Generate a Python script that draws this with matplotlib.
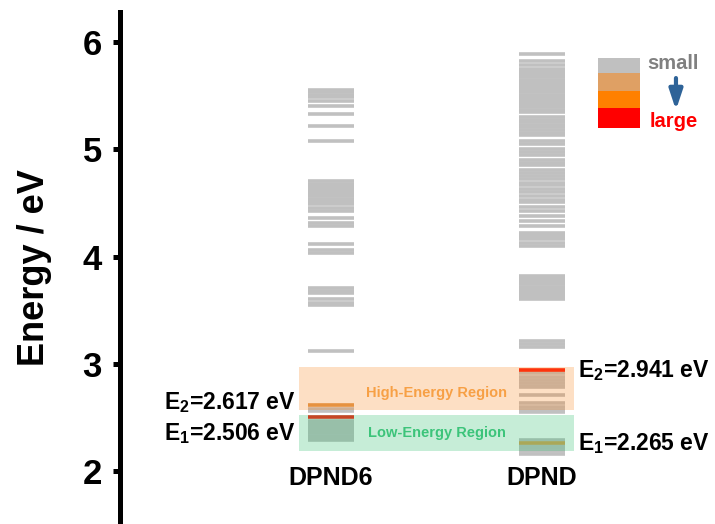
import matplotlib
matplotlib.use("Agg")
import matplotlib.pyplot as plt
from matplotlib.patches import Rectangle

plt.rcParams['font.family'] = ['Liberation Sans', 'DejaVu Sans']
plt.rcParams['font.weight'] = 'bold'
plt.rcParams['mathtext.fontset'] = 'custom'
plt.rcParams['mathtext.bf'] = 'Liberation Sans:bold'
plt.rcParams['mathtext.rm'] = 'Liberation Sans:bold'

# molecules and x positions
molecules = ["DPND6", "DPND"]
mol_x = [1, 2]

# excited-state levels (eV), small oscillator strength (gray)
dpnd6_gray = [5.55, 5.53, 5.51, 5.49, 5.45, 5.40, 5.33, 5.22, 5.08,
              4.70, 4.68, 4.66, 4.64, 4.62, 4.60, 4.58, 4.56, 4.54, 4.52, 4.50, 4.49,
              4.45, 4.42, 4.36, 4.31, 4.28, 4.12, 4.06, 4.03,
              3.71, 3.68, 3.66, 3.60, 3.57, 3.55, 3.12,
              2.58, 2.56, 2.47, 2.45, 2.43, 2.41, 2.39, 2.37, 2.35, 2.33, 2.31, 2.29]
dpnd_gray = [5.89, 5.82, 5.79, 5.75, 5.73, 5.71, 5.69, 5.67, 5.65, 5.63, 5.61, 5.59,
             5.57, 5.55, 5.53, 5.51, 5.49, 5.47, 5.45, 5.43, 5.41, 5.39, 5.37, 5.35, 5.30,
             5.27, 5.25, 5.23, 5.21, 5.18, 5.15, 5.13, 5.08, 5.05, 5.00, 4.97, 4.95,
             4.90, 4.87, 4.85, 4.81, 4.78, 4.75, 4.72, 4.69, 4.67, 4.63, 4.60,
             4.56, 4.53, 4.51, 4.46, 4.42, 4.375, 4.33, 4.28,
             4.22, 4.20, 4.18, 4.16, 4.13, 4.10,
             3.82, 3.80, 3.78, 3.76, 3.74, 3.72, 3.70, 3.68, 3.66, 3.64, 3.62, 3.60,
             3.21, 3.18, 3.155,
             2.91, 2.88, 2.85, 2.82, 2.79, 2.78, 2.71, 2.63, 2.60, 2.57, 2.55,
             2.285, 2.235, 2.21, 2.185, 2.16]

# highlighted states (E1, E2) and their strength colour
dpnd6_E = [2.506, 2.617]
dpnd6_E_col = ["#FF1A0A", "#E0994F"]
dpnd_E = [2.265, 2.941]
dpnd_E_col = ["#D9A050", "#FF1A0A"]

# energy regions (bottom, top)
high_region = [2.567, 2.971]
low_region = [2.187, 2.520]

# legend of oscillator strength
strength_cols = ["#C0C0C0", "#DFA064", "#FF8000", "#FF0000"]
strength_edges = [5.851, 5.711, 5.543, 5.385, 5.198]

fig = plt.figure(figsize=(7.15, 5.24), dpi=100)
ax = fig.add_axes([120 / 715, 0, 595 / 715, 512 / 524])
ax.set_xlim(0, 2.82)
ax.set_ylim(1.506, 6.28)

hw = 0.111
lw = 2.6
for x, gray in zip(mol_x, [dpnd6_gray, dpnd_gray]):
    ax.hlines(gray, x - hw, x + hw, colors="#C0C0C0", lw=lw, zorder=2)
for e, c in zip(dpnd6_E, dpnd6_E_col):
    ax.hlines(e, mol_x[0] - hw, mol_x[0] + hw, colors=c, lw=lw, zorder=3)
for e, c in zip(dpnd_E, dpnd_E_col):
    ax.hlines(e, mol_x[1] - hw, mol_x[1] + hw, colors=c, lw=lw, zorder=3)

# shaded regions on top
ax.add_patch(Rectangle((0.848, high_region[0]), 2.152 - 0.848, high_region[1] - high_region[0],
                       facecolor="#F88014", alpha=0.25, lw=0, zorder=4))
ax.add_patch(Rectangle((0.848, low_region[0]), 2.152 - 0.848, low_region[1] - low_region[0],
                       facecolor="#2EBE6E", alpha=0.27, lw=0, zorder=4))
ax.text(1.5, 2.727, "High-Energy Region", color="#F7A045", fontsize=10.5,
        ha="center", va="center", zorder=5)
ax.text(1.5, 2.355, "Low-Energy Region", color="#3CC47A", fontsize=10.5,
        ha="center", va="center", zorder=5)

# energy labels
lab_fs = 16.5
ax.text(0.834, 2.643, "E$_\\mathbf{2}$=2.617 eV", fontsize=lab_fs, ha="right", va="center")
ax.text(0.834, 2.345, "E$_\\mathbf{1}$=2.506 eV", fontsize=lab_fs, ha="right", va="center")
ax.text(2.17, 2.94, "E$_\\mathbf{2}$=2.941 eV", fontsize=lab_fs, ha="left", va="center")
ax.text(2.17, 2.26, "E$_\\mathbf{1}$=2.265 eV", fontsize=lab_fs, ha="left", va="center")

# molecule names
for x, name in zip(mol_x, molecules):
    ax.text(x, 1.935, name, fontsize=18, ha="center", va="center")

# strength legend
for i, c in enumerate(strength_cols):
    ax.add_patch(Rectangle((2.265, strength_edges[i + 1]), 0.2,
                           strength_edges[i] - strength_edges[i + 1],
                           facecolor=c, lw=0, zorder=3))
ax.text(2.50, 5.80, "small", color="#808080", fontsize=14.5, ha="left", va="center")
ax.text(2.51, 5.26, "large", color="#FF0000", fontsize=14.5, ha="left", va="center")
ax.annotate("", xy=(2.635, 5.34), xytext=(2.635, 5.69),
            arrowprops=dict(arrowstyle="-|>,head_width=0.4,head_length=1.2",
                            color="#2E6398", lw=3.0))

# axes styling
for s in ["top", "right", "bottom"]:
    ax.spines[s].set_visible(False)
ax.spines["left"].set_linewidth(3.6)
ax.set_xticks([])
ax.set_yticks([2, 3, 4, 5, 6])
ax.tick_params(axis="y", length=5, width=3.6, labelsize=25, pad=8)
for t in ax.get_yticklabels():
    t.set_fontweight("bold")
ax.set_ylabel("Energy / eV", fontsize=26, fontweight="bold", labelpad=22)

fig.savefig("out.png", dpi=100)
